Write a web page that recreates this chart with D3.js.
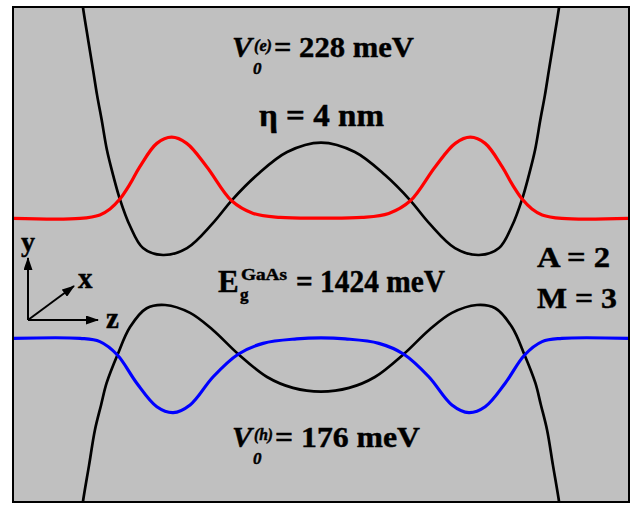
<!DOCTYPE html>
<html>
<head>
<meta charset="utf-8">
<script src="https://cdnjs.cloudflare.com/ajax/libs/d3/7.8.5/d3.min.js"></script>
<style>
  body { margin: 0; background: #fff; }
  svg { display: block; }
  text { font-family: "Liberation Serif", "Times New Roman", serif; font-weight: bold; fill: #000; stroke: #000; stroke-width: 0.45px; }
</style>
</head>
<body>
<svg id="chart"></svg>
<script>
// z runs -1..1 across the box, energy -1..1 from bottom to top (relative units)

// conduction band edge (top black curve)
const electronPotential = [
  [-0.782, 1.089], [-0.773, 1.000], [-0.756, 0.867], [-0.740, 0.745], [-0.727, 0.644],
  [-0.712, 0.543], [-0.695, 0.422], [-0.675, 0.321], [-0.653, 0.224], [-0.620, 0.115],
  [-0.578, 0.026], [-0.513, -0.002], [-0.435, 0.026], [-0.351, 0.127], [-0.289, 0.220],
  [-0.208, 0.321], [-0.110, 0.414], [0, 0.452],
  [0.110, 0.414], [0.208, 0.321], [0.289, 0.220], [0.351, 0.127], [0.435, 0.026],
  [0.513, -0.002], [0.578, 0.026], [0.620, 0.115], [0.653, 0.224], [0.675, 0.321],
  [0.695, 0.422], [0.712, 0.543], [0.727, 0.644], [0.740, 0.745], [0.756, 0.867],
  [0.773, 1.000], [0.782, 1.089]
];

// valence band edge (bottom black curve)
const holePotential = [
  [-0.782, -1.093], [-0.773, -1.000], [-0.753, -0.851], [-0.734, -0.709], [-0.714, -0.608],
  [-0.696, -0.519], [-0.661, -0.406], [-0.620, -0.293], [-0.566, -0.217], [-0.506, -0.204],
  [-0.425, -0.236], [-0.351, -0.305], [-0.269, -0.402], [-0.175, -0.495], [-0.091, -0.539],
  [0, -0.554],
  [0.091, -0.539], [0.175, -0.495], [0.269, -0.402], [0.351, -0.305], [0.425, -0.236],
  [0.506, -0.204], [0.566, -0.217], [0.620, -0.293], [0.661, -0.406], [0.696, -0.519],
  [0.714, -0.608], [0.734, -0.709], [0.753, -0.851], [0.773, -1.000], [0.782, -1.093]
];

// electron wave function (red)
const electronWave = [
  [-1.000, 0.146], [-0.782, 0.146], [-0.718, 0.160], [-0.685, 0.184], [-0.653, 0.224],
  [-0.620, 0.285], [-0.588, 0.355], [-0.533, 0.449], [-0.485, 0.474], [-0.436, 0.449],
  [-0.371, 0.355], [-0.290, 0.217], [-0.220, 0.166], [-0.133, 0.150], [0, 0.147],
  [0.133, 0.150], [0.220, 0.166], [0.290, 0.217], [0.371, 0.355], [0.436, 0.449],
  [0.485, 0.474], [0.533, 0.449], [0.588, 0.355], [0.620, 0.285], [0.653, 0.224],
  [0.685, 0.184], [0.718, 0.160], [0.782, 0.146], [1.000, 0.146]
];

// hole wave function (blue)
const holeWave = [
  [-1.000, -0.339], [-0.782, -0.339], [-0.718, -0.352], [-0.661, -0.406], [-0.598, -0.520],
  [-0.533, -0.615], [-0.480, -0.639], [-0.425, -0.608], [-0.350, -0.494], [-0.269, -0.403],
  [-0.188, -0.359], [-0.079, -0.341], [0, -0.337],
  [0.079, -0.341], [0.188, -0.359], [0.269, -0.403], [0.350, -0.494], [0.425, -0.608],
  [0.480, -0.639], [0.533, -0.615], [0.598, -0.520], [0.661, -0.406], [0.718, -0.352],
  [0.782, -0.339], [1.000, -0.339]
];

// parameters written on the figure
const V0e = 228, V0h = 176, gapGaAs = 1424, eta = 4, A = 2, M = 3;

width = 632;
height = 505;
frame = {left: 13, right: 629, top: 7, bottom: 502};
box_color = "#c0c0c0";

const svg = d3.select("#chart")
    .attr("width", width)
    .attr("height", height);

const x = d3.scaleLinear().domain([-1, 1]).range([frame.left, frame.right]);
const y = d3.scaleLinear().domain([-1, 1]).range([frame.bottom, frame.top]);

const defs = svg.append("defs");
defs.append("clipPath").attr("id", "clip")
  .append("rect")
    .attr("x", frame.left).attr("y", frame.top)
    .attr("width", frame.right - frame.left).attr("height", frame.bottom - frame.top);
defs.append("marker")
    .attr("id", "arrowhead")
    .attr("viewBox", "0 0 13 9")
    .attr("refX", 12).attr("refY", 4.5)
    .attr("markerWidth", 13).attr("markerHeight", 9)
    .attr("markerUnits", "userSpaceOnUse")
    .attr("orient", "auto")
  .append("path")
    .attr("d", "M0,0L13,4.5L0,9Z")
    .attr("fill", "#000");

svg.append("rect")
    .attr("x", frame.left).attr("y", frame.top)
    .attr("width", frame.right - frame.left).attr("height", frame.bottom - frame.top)
    .attr("fill", box_color);

var curveFunc = d3.line()
  .curve(d3.curveCatmullRom.alpha(0.5))
  .x(d => x(d[0]))
  .y(d => y(d[1]));

const curves = svg.append("g").attr("clip-path", "url(#clip)");
[
  {data: electronPotential, color: "#000", w: 2.7},
  {data: holePotential, color: "#000", w: 2.7},
  {data: electronWave, color: "#ff0000", w: 3.2},
  {data: holeWave, color: "#0000ff", w: 3.2}
].forEach(c => {
  curves.append("path")
    .attr("d", curveFunc(c.data))
    .attr("fill", "none")
    .attr("stroke", c.color)
    .attr("stroke-width", c.w)
    .attr("stroke-linejoin", "round");
});

svg.append("rect")
    .attr("x", frame.left).attr("y", frame.top)
    .attr("width", frame.right - frame.left).attr("height", frame.bottom - frame.top)
    .attr("fill", "none")
    .attr("stroke", "#000")
    .attr("stroke-width", 2);

function addText(x0, y0, str, size, style, len) {
  const t = svg.append("text")
    .attr("x", x0).attr("y", y0)
    .attr("font-size", size)
    .attr("font-style", style || "normal")
    .text(str);
  if (len) t.attr("textLength", len).attr("lengthAdjust", "spacingAndGlyphs");
  return t;
}

// V0(e) label
addText(232, 57, "V", 30, "italic");
addText(254, 51, "(e)", 16, "italic", 18);
addText(253, 74, "0", 17, "italic");
addText(274, 57, "= " + V0e + " meV", 30, null, 140);

addText(259, 126, "\u03b7 = " + eta + " nm", 31, null, 125);

// band gap label
addText(218, 292, "E", 31);
addText(241, 280, "GaAs", 16, null, 46);
addText(240, 300, "g", 17);
addText(296, 292, "= " + gapGaAs + " meV", 31, null, 149);

addText(537, 267, "A = " + A, 30, null, 73);
addText(537, 308, "M = " + M, 30, null, 80);

// V0(h) label
addText(232, 447, "V", 30, "italic");
addText(254, 440, "(h)", 16, "italic", 19);
addText(253, 464, "0", 17, "italic");
addText(275, 447, "= " + V0h + " meV", 30, null, 145);

// coordinate triad
const origin = [28, 320];
[[28, 258], [74, 286], [98, 320]].forEach(tip => {
  svg.append("line")
    .attr("x1", origin[0]).attr("y1", origin[1])
    .attr("x2", tip[0]).attr("y2", tip[1])
    .attr("stroke", "#000")
    .attr("stroke-width", 2)
    .attr("marker-end", "url(#arrowhead)");
});
addText(28, 251, "y", 28).attr("text-anchor", "middle");
addText(78, 288, "x", 29);
addText(106, 328, "z", 29);
</script>
</body>
</html>
